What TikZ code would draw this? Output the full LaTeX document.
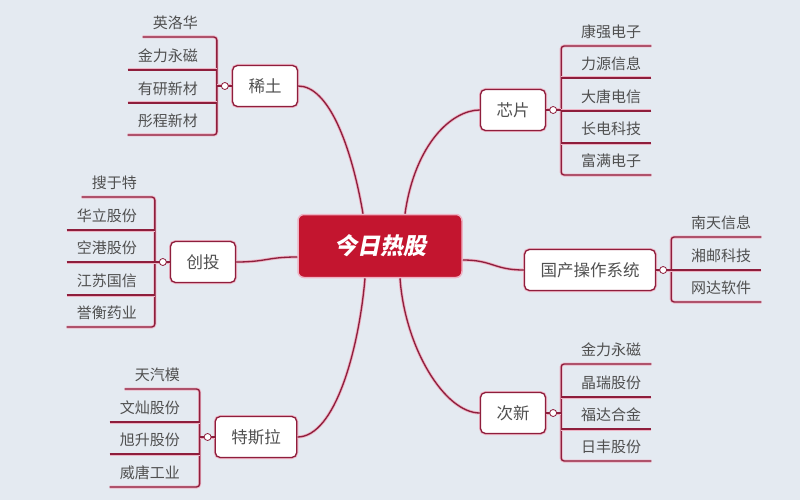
\documentclass[tikz,border=0pt]{standalone}
\usepackage{fontspec}
\setmainfont{Noto Sans CJK SC}
\newfontfamily\headfont{Noto Sans CJK SC}[FakeSlant=0.2]
\usetikzlibrary{positioning}

\definecolor{bgblue}{HTML}{E4EAF1}
\definecolor{wine}{HTML}{8E1E3C}
\definecolor{glow}{HTML}{EDB3C4}
\definecolor{crimson}{HTML}{C3152F}
\definecolor{leafgray}{HTML}{505050}

\begin{document}
\begin{tikzpicture}[x=1pt, y=-1pt]
  \tikzstyle{link}=[draw=wine, line width=1.3pt, preaction={draw=glow, line width=3pt}];
  \tikzstyle{hub}=[draw=glow, line width=1.5pt, fill=crimson, rounded corners=6pt, minimum width=164pt, minimum height=63pt, text=white, font=\headfont\bfseries\fontsize{23}{23}\selectfont];
  \tikzstyle{topic}=[draw=wine, line width=1.3pt, fill=white, rounded corners=5pt, minimum height=41pt, inner xsep=16pt, text=leafgray, font=\fontsize{16.5}{16.5}\selectfont, preaction={draw=glow, line width=3pt}];
  \tikzstyle{stockl}=[anchor=south east, inner xsep=10pt, inner ysep=8pt, text depth=0pt, text=leafgray, font=\fontsize{15}{15}\selectfont];
  \tikzstyle{stockr}=[stockl, anchor=south west];
  \tikzstyle{dot}=[circle, draw=wine, line width=0.8pt, fill=white, inner sep=0pt, minimum size=7pt];

  \path[use as bounding box, fill=bgblue] (0,0) rectangle (800,500);

  \node[hub] (hub) at (380,246) {今日热股};
  \coordinate (hubtl) at ([xshift=-17pt]hub.north);
  \coordinate (hubtr) at ([xshift=25pt]hub.north);
  \coordinate (hubbl) at ([xshift=-15pt]hub.south);
  \coordinate (hubbr) at ([xshift=20pt]hub.south);

  % 稀土
  \node[topic] (xitu) at (265,86) {稀土};
  \coordinate (xitubar) at ([xshift=-15pt]xitu.west);
  \foreach \t/\y [count=\i] in {英洛华/37, 金力永磁/70, 有研新材/103, 彤程新材/135}
    \node[stockl] (xitu\i) at (208,\y) {\t};
  \draw[link, rounded corners=3pt] (xitu1.south west) -| (xitubar) |- (xitu4.south west);
  \foreach \i in {2,3}
    \draw[link] (xitu\i.south west) -- (xitu\i.south west -| xitubar);
  \draw[link] (xitu.west) -- (xitubar);
  \node[dot] (xitudot) at ([xshift=-7pt]xitu.west) {};

  % 芯片
  \node[topic] (xinpian) at (513,110) {芯片};
  \coordinate (xinpianbar) at ([xshift=15pt]xinpian.east);
  \foreach \t/\y [count=\i] in {康强电子/46, 力源信息/78, 大唐电信/111, 长电科技/143, 富满电子/175}
    \node[stockr] (xinpian\i) at (571,\y) {\t};
  \draw[link, rounded corners=3pt] (xinpian1.south east) -| (xinpianbar) |- (xinpian5.south east);
  \foreach \i in {2,3,4}
    \draw[link] (xinpian\i.south east) -- (xinpian\i.south east -| xinpianbar);
  \draw[link] (xinpian.east) -- (xinpianbar);
  \node[dot] (xinpiandot) at ([xshift=7pt]xinpian.east) {};

  % 国产操作系统
  \node[topic] (guochan) at (590,270) {国产操作系统};
  \coordinate (guochanbar) at ([xshift=15pt]guochan.east);
  \foreach \t/\y [count=\i] in {南天信息/237, 湘邮科技/270, 网达软件/302}
    \node[stockr] (guochan\i) at (681,\y) {\t};
  \draw[link, rounded corners=3pt] (guochan1.south east) -| (guochanbar) |- (guochan3.south east);
  \draw[link] (guochan2.south east) -- (guochan2.south east -| guochanbar);
  \draw[link] (guochan.east) -- (guochanbar);
  \node[dot] (guochandot) at ([xshift=7pt]guochan.east) {};

  % 创投
  \node[topic] (chuangtou) at (203,262) {创投};
  \coordinate (chuangtoubar) at ([xshift=-15pt]chuangtou.west);
  \foreach \t/\y [count=\i] in {搜于特/197, 华立股份/230, 空港股份/262, 江苏国信/295, 誉衡药业/327}
    \node[stockl] (chuangtou\i) at (147,\y) {\t};
  \draw[link, rounded corners=3pt] (chuangtou1.south west) -| (chuangtoubar) |- (chuangtou5.south west);
  \foreach \i in {2,3,4}
    \draw[link] (chuangtou\i.south west) -- (chuangtou\i.south west -| chuangtoubar);
  \draw[link] (chuangtou.west) -- (chuangtoubar);
  \node[dot] (chuangtoudot) at ([xshift=-7pt]chuangtou.west) {};

  % 特斯拉
  \node[topic] (tesila) at (256,437) {特斯拉};
  \coordinate (tesilabar) at ([xshift=-15pt]tesila.west);
  \foreach \t/\y [count=\i] in {天汽模/389, 文灿股份/422, 旭升股份/454, 威唐工业/487}
    \node[stockl] (tesila\i) at (190,\y) {\t};
  \draw[link, rounded corners=3pt] (tesila1.south west) -| (tesilabar) |- (tesila4.south west);
  \foreach \i in {2,3}
    \draw[link] (tesila\i.south west) -- (tesila\i.south west -| tesilabar);
  \draw[link] (tesila.west) -- (tesilabar);
  \node[dot] (tesiladot) at ([xshift=-7pt]tesila.west) {};

  % 次新
  \node[topic] (cixin) at (513,413) {次新};
  \coordinate (cixinbar) at ([xshift=15pt]cixin.east);
  \foreach \t/\y [count=\i] in {金力永磁/364, 晶瑞股份/397, 福达合金/429, 日丰股份/461}
    \node[stockr] (cixin\i) at (571,\y) {\t};
  \draw[link, rounded corners=3pt] (cixin1.south east) -| (cixinbar) |- (cixin4.south east);
  \foreach \i in {2,3}
    \draw[link] (cixin\i.south east) -- (cixin\i.south east -| cixinbar);
  \draw[link] (cixin.east) -- (cixinbar);
  \node[dot] (cixindot) at ([xshift=7pt]cixin.east) {};

  % hub to topics
  \draw[link] (xitu.east) .. controls +(30,0) and +(-12,-70) .. (hubtl);
  \draw[link] (xinpian.west) .. controls +(-28,0) and +(10,-70) .. (hubtr);
  \draw[link] (tesila.east) .. controls +(38,0) and +(-6,70) .. (hubbl);
  \draw[link] (cixin.west) .. controls +(-35,0) and +(5,70) .. (hubbr);
  \draw[link] (chuangtou.east) .. controls +(30,0) and +(-30,0) .. ([yshift=-11pt]hub.west);
  \draw[link] (guochan.west) .. controls +(-30,0) and +(30,0) .. ([yshift=-14pt]hub.east);
\end{tikzpicture}
\end{document}
